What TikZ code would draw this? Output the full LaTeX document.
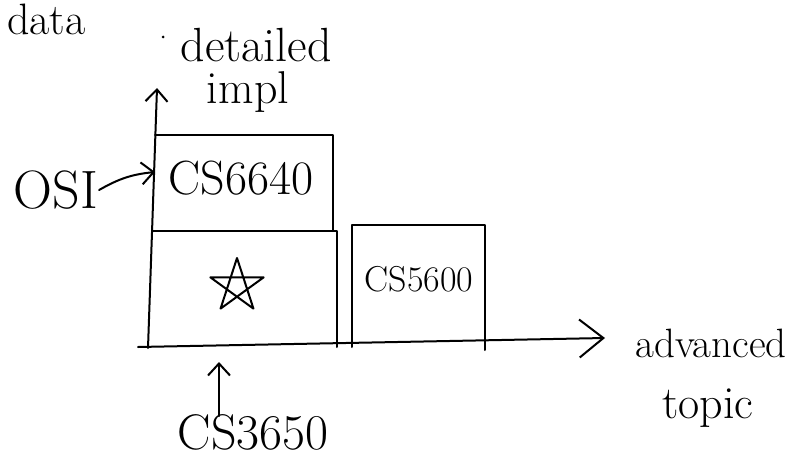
\documentclass[tikz,border=0pt]{standalone}
\usetikzlibrary{arrows.meta}
\begin{document}
\begin{tikzpicture}[x=1pt,y=-1pt, line width=2pt, line cap=round, line join=round,
  txt/.style={inner sep=0pt},
  barb/.style={-{Straight Barb[length=12pt,width=22pt]}}]
\useasboundingbox (0,0) rectangle (799,460);
% partial word at top
\node[txt, font=\fontsize{44}{48}\selectfont, anchor=base west] (top) at (6,35) {data};
\fill (163,37) circle (1.5pt);
% axes
\coordinate (o) at (148,348);
\coordinate (ytip) at (157,88);
\coordinate (xtip) at (605,338);
\draw[barb] (o) -- (ytip);
\draw[-{Straight Barb[length=24pt,width=38pt]}] (138,347) -- (xtip);
% boxes (left and bottom edges are the axes)
\draw (155,135) -- (333,135) -- (333,231);
\draw (152,231) -- (337,231) -- (337,347);
\draw (352,347) -- (352,225) -- (485,225) -- (485,350);
% labels
\node[txt, font=\fontsize{48}{52}\selectfont] (det) at (256,45) {detailed};
\node[txt, font=\fontsize{46}{50}\selectfont] (impl) at (248,92) {impl};
\node[txt, font=\fontsize{48}{52}\selectfont] (c6640) at (241,178) {CS6640};
\node[txt, font=\fontsize{36}{40}\selectfont] (c5600) at (419,279) {CS5600};
\node[txt, font=\fontsize{50}{54}\selectfont] (c3650) at (253,432) {CS3650};
\node[txt, font=\fontsize{54}{58}\selectfont] (osi) at (56,190) {OSI};
\node[txt, font=\fontsize{41}{45}\selectfont] (adv) at (711,343) {advanced};
\node[txt, font=\fontsize{46}{50}\selectfont] (topic) at (708,408) {topic};
% star
\coordinate (star) at (237,286);
\draw ([shift={(-90:28)}]star) -- ([shift={(54:28)}]star) -- ([shift={(198:28)}]star)
  -- ([shift={(342:28)}]star) -- ([shift={(126:28)}]star) -- cycle;
% arrows
\coordinate (osiend) at (155,172);
\draw[barb] (osi.east) to[bend left=12] (osiend);
\coordinate (a3650) at (219,362);
\draw[barb] ([xshift=-34pt,yshift=-3pt]c3650.north) -- (a3650);
\end{tikzpicture}
\end{document}
